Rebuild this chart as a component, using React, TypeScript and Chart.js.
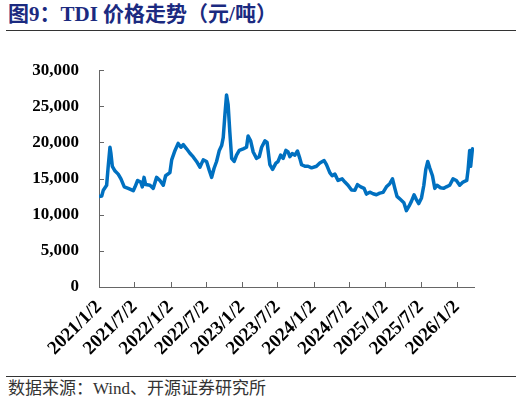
import React, { useEffect, useRef } from "react";
import { Chart, registerables } from "chart.js";

Chart.register(...registerables);

// TDI price (yuan/ton)
const dates = [
  "2021/1/2", "2021/1/16", "2021/1/24", "2021/2/10", "2021/2/18", "2021/2/27",
  "2021/3/4", "2021/3/11", "2021/3/25", "2021/4/10", "2021/4/24", "2021/5/11",
  "2021/5/31", "2021/6/26", "2021/7/5", "2021/7/18", "2021/8/3", "2021/8/11",
  "2021/8/20", "2021/8/28", "2021/9/19", "2021/10/6", "2021/10/23", "2021/11/9",
  "2021/11/26", "2021/12/8", "2021/12/30", "2022/1/8", "2022/1/25", "2022/2/10",
  "2022/2/24", "2022/3/8", "2022/3/25", "2022/4/11", "2022/4/28", "2022/5/15",
  "2022/6/1", "2022/6/18", "2022/7/5", "2022/7/19", "2022/7/31", "2022/8/12",
  "2022/8/25", "2022/9/8", "2022/9/20", "2022/9/28", "2022/10/7", "2022/10/15",
  "2022/10/23", "2022/11/1", "2022/11/10", "2022/11/23", "2022/12/5", "2022/12/19",
  "2023/1/8", "2023/1/25", "2023/2/2", "2023/2/15", "2023/2/28", "2023/3/17",
  "2023/3/31", "2023/4/12", "2023/4/29", "2023/5/10", "2023/5/24", "2023/6/7",
  "2023/6/24", "2023/7/5", "2023/7/18", "2023/7/31", "2023/8/14", "2023/8/25",
  "2023/9/3", "2023/9/15", "2023/9/29", "2023/10/12", "2023/10/24", "2023/11/2",
  "2023/11/19", "2023/12/5", "2023/12/23", "2024/1/17", "2024/2/3", "2024/2/25",
  "2024/3/8", "2024/3/25", "2024/4/6", "2024/4/20", "2024/5/6", "2024/5/27",
  "2024/6/10", "2024/6/26", "2024/7/14", "2024/7/31", "2024/8/13", "2024/8/30",
  "2024/9/16", "2024/9/28", "2024/10/15", "2024/11/1", "2024/11/18", "2024/12/5",
  "2024/12/22", "2025/1/8", "2025/1/25", "2025/2/8", "2025/2/20", "2025/3/3",
  "2025/3/21", "2025/4/7", "2025/4/20", "2025/5/4", "2025/5/16", "2025/5/29",
  "2025/6/10", "2025/6/22", "2025/7/6", "2025/7/18", "2025/7/28", "2025/8/7",
  "2025/8/17", "2025/8/31", "2025/9/12", "2025/9/23", "2025/10/11", "2025/10/28",
  "2025/11/10", "2025/11/27", "2025/12/14", "2025/12/31", "2026/1/17", "2026/2/3",
  "2026/2/22", "2026/3/1", "2026/3/9", "2026/3/14", "2026/3/23", "2026/3/31",
];

const prices = [
  12500, 12600, 13400, 14080, 16700, 19340,
  18460, 16700, 16050, 15620, 14960, 13860,
  13650, 13330, 13860, 14740, 14520, 13860,
  15170, 14170, 14080, 13650, 15170, 14740,
  14080, 15390, 15830, 17590, 18900, 19870,
  19340, 19700, 19120, 18500, 18000, 17370,
  16580, 17590, 17370, 16140, 15170, 16400,
  17370, 18900, 19570, 20660, 23950, 26580,
  25260, 21320, 17800, 17370, 18250, 18900,
  19120, 19340, 20880, 20220, 18680, 17800,
  18030, 19340, 20220, 20000, 16930, 16280,
  17150, 17370, 18250, 17800, 18900, 18680,
  18030, 18460, 18250, 18820, 17800, 16930,
  16710, 16710, 16490, 16710, 17150, 17500,
  16930, 15830, 15400, 15620, 14740, 14960,
  14520, 14080, 13420, 13380, 14170, 13860,
  13650, 12860, 13120, 12900, 12760, 12990,
  13100, 13860, 14300, 14960, 13650, 12540,
  12100, 11670, 10570, 11220, 11880, 12760,
  12100, 11540, 12330, 14080, 16280, 17370,
  16490, 15400, 13650, 14080, 13730, 13650,
  13860, 14080, 14960, 14740, 14080, 14520,
  14740, 16280, 18900, 16710, 19120, 18900,
];

const tickDates = [
  "2021/1/2", "2021/7/2", "2022/1/2", "2022/7/2", "2023/1/2", "2023/7/2",
  "2024/1/2", "2024/7/2", "2025/1/2", "2025/7/2", "2026/1/2",
];
const yTicks = [0, 5000, 10000, 15000, 20000, 25000, 30000];
const axisStart = "2021/1/2";
const axisEnd = "2026/3/31";

const toUtc = (s: string) => {
  const [y, m, d] = s.split("/").map(Number);
  return Date.UTC(y, m - 1, d);
};
const dayOf = (s: string) => (toUtc(s) - toUtc(axisStart)) / 86400000;

const AXIS_COLOR = "#666666";
const LABEL_FONT = "'Liberation Serif', 'Times New Roman', serif";

// short tick marks pointing into the plot area
const innerTicks = {
  id: "innerTicks",
  afterDraw(chart: any) {
    const { ctx, chartArea, scales } = chart;
    ctx.save();
    ctx.strokeStyle = AXIS_COLOR;
    ctx.lineWidth = 1;
    ctx.beginPath();
    for (const t of scales.x.ticks) {
      const x = Math.round(scales.x.getPixelForValue(t.value)) + 0.5;
      ctx.moveTo(x, chartArea.bottom);
      ctx.lineTo(x, chartArea.bottom - 5);
    }
    for (const t of scales.y.ticks) {
      const y = Math.round(scales.y.getPixelForValue(t.value)) + 0.5;
      ctx.moveTo(chartArea.left, y);
      ctx.lineTo(chartArea.left + 5, y);
    }
    ctx.stroke();
    ctx.restore();
  },
};

const PriceChart: React.FC = () => {
  const canvasRef = useRef<HTMLCanvasElement>(null);
  const chartRef = useRef<Chart>();

  useEffect(() => {
    if (!canvasRef.current) return;
    const ctx = canvasRef.current.getContext("2d");
    if (!ctx) return;
    if (chartRef.current) chartRef.current.destroy();

    chartRef.current = new Chart(ctx, {
      type: "line",
      data: {
        datasets: [
          {
            data: dates.map((d, i) => ({ x: dayOf(d), y: prices[i] })),
            borderColor: "#0070C0",
            borderWidth: 3.5,
            pointRadius: 0,
            tension: 0,
            borderJoinStyle: "round",
            fill: false,
          },
        ],
      },
      options: {
        animation: false,
        responsive: false,
        layout: { padding: { top: 19, right: 48, left: 0, bottom: 0 } },
        plugins: { legend: { display: false }, tooltip: { enabled: false } },
        scales: {
          x: {
            type: "linear",
            min: 0,
            max: dayOf(axisEnd),
            grid: { display: false, drawTicks: false },
            border: { display: true, color: AXIS_COLOR, width: 1 },
            afterBuildTicks: (s: any) => {
              s.ticks = tickDates.map((t) => ({ value: dayOf(t) }));
            },
            afterFit: (s: any) => {
              s.height = 83;
            },
            ticks: {
              autoSkip: false,
              maxRotation: 45,
              minRotation: 45,
              padding: 9,
              color: "#000",
              font: { family: LABEL_FONT, size: 19, weight: "bold" },
              callback: (_v: any, i: number) => tickDates[i],
            },
          },
          y: {
            min: 0,
            max: 30000,
            grid: { display: false, drawTicks: false },
            border: { display: true, color: AXIS_COLOR, width: 1 },
            afterBuildTicks: (s: any) => {
              s.ticks = yTicks.map((v) => ({ value: v }));
            },
            afterFit: (s: any) => {
              s.width = 99;
            },
            ticks: {
              padding: 20,
              color: "#000",
              font: { family: LABEL_FONT, size: 17, weight: "bold" },
              callback: (v: any) => Number(v).toLocaleString("en-US"),
            },
          },
        },
      } as any,
      plugins: [innerTicks],
    });

    return () => {
      if (chartRef.current) {
        chartRef.current.destroy();
        chartRef.current = undefined;
      }
    };
  }, []);

  return <canvas ref={canvasRef} width={522} height={330} />;
};

export default function App() {
  return (
    <div
      style={{
        position: "absolute",
        left: 0,
        top: 0,
        width: 522,
        height: 405,
        background: "#fff",
      }}
    >
      <div
        style={{
          position: "absolute",
          left: 8,
          top: 2,
          fontFamily: "'Liberation Serif', 'Noto Sans CJK SC', serif",
          fontWeight: "bold",
          fontSize: 21,
          lineHeight: "24px",
          color: "#1B2A80",
          whiteSpace: "nowrap",
        }}
      >
        图9：TDI 价格走势（元/吨）
      </div>
      <div
        style={{
          position: "absolute",
          left: 6,
          top: 30,
          width: 510,
          height: 0,
          borderTop: "1px solid #333",
        }}
      />
      <div style={{ position: "absolute", left: 0, top: 40 }}>
        <PriceChart />
      </div>
      <div
        style={{
          position: "absolute",
          left: 6,
          top: 376,
          width: 510,
          height: 0,
          borderTop: "1px solid #333",
        }}
      />
      <div
        style={{
          position: "absolute",
          left: 8,
          top: 379,
          fontFamily: "'Liberation Serif', 'Noto Sans CJK SC', serif",
          fontSize: 17,
          lineHeight: "20px",
          color: "#333",
          whiteSpace: "nowrap",
        }}
      >
        数据来源：Wind、开源证券研究所
      </div>
    </div>
  );
}
